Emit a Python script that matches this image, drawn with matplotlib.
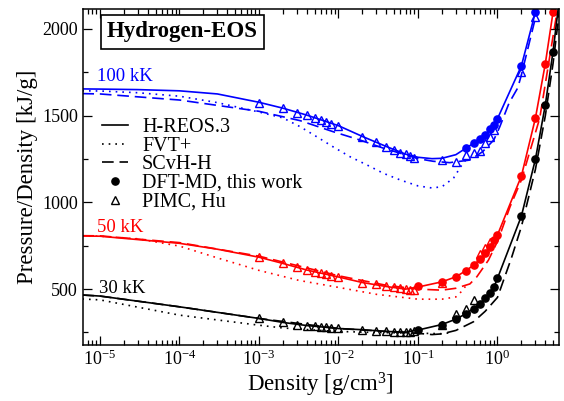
import numpy as np
import matplotlib
matplotlib.use("Agg")
import matplotlib.pyplot as plt
from matplotlib.ticker import LogLocator, MultipleLocator, NullFormatter
from matplotlib.lines import Line2D

plt.rcParams['font.family'] = ['Liberation Serif', 'DejaVu Serif']
plt.rcParams['mathtext.fontset'] = 'custom'
plt.rcParams['mathtext.rm'] = 'Liberation Serif'
plt.rcParams['mathtext.it'] = 'Liberation Serif:italic'

# ---- 100 kK ----
reos100_x = [6e-6, 1e-5, 3e-5, 1e-4, 3e-4, 1e-3, 2e-3, 4e-3, 1e-2, 2e-2, 4e-2, 7e-2,
             0.1, 0.15, 0.2, 0.3, 0.4, 0.5, 0.6, 0.7, 0.8, 0.9, 1.0, 2.0, 3.0, 3.3]
reos100_y = [1654, 1653, 1650, 1643, 1625, 1577, 1543, 1503, 1442, 1380, 1322, 1278,
             1260, 1252, 1254, 1275, 1312, 1341, 1364, 1388, 1421, 1446, 1482, 1787, 2096, 2190]
fvt100_x = [6e-6, 1e-5, 3e-5, 1e-4, 3e-4, 1e-3, 2e-3, 3.3e-3, 5.3e-3, 8.5e-3, 1.4e-2, 2.3e-2,
            3.7e-2, 6e-2, 0.1, 0.15, 0.2, 0.28, 0.35, 0.4]
fvt100_y = [1643, 1642, 1632, 1612, 1575, 1521, 1487, 1436, 1379, 1321, 1263, 1215,
            1167, 1129, 1095, 1083, 1090, 1140, 1210, 1245]
scvh100_x = [6e-6, 1e-5, 1e-4, 1e-3, 3.3e-3, 8.5e-3, 1.85e-2, 3.7e-2, 6e-2, 0.1, 0.155,
             0.25, 0.45, 0.65, 0.9, 1.07, 1.4, 1.8, 2.0, 3.0, 3.3]
scvh100_y = [1627, 1625, 1590, 1525, 1471, 1408, 1360, 1312, 1283, 1252, 1237,
             1229, 1244, 1292, 1360, 1436, 1573, 1660, 1735, 2063, 2170]
dft100_x = [0.4, 0.5, 0.6, 0.7, 0.8, 0.9, 1.0, 2.0, 3.0]
dft100_y = [1312, 1341, 1364, 1388, 1421, 1446, 1482, 1787, 2096]
pimc100_x = [1e-3, 2e-3, 3e-3, 4e-3, 5e-3, 6e-3, 7e-3, 8e-3, 1e-2, 2e-2, 3e-2, 4e-2,
             5e-2, 6e-2, 7e-2, 8e-2, 9e-2, 0.2, 0.3, 0.4, 0.5, 0.6, 0.7, 0.8, 0.9, 2.0, 3.0]
pimc100_y = [1575, 1542, 1517, 1502, 1487, 1475, 1464, 1454, 1440, 1379, 1346, 1321,
             1302, 1286, 1277, 1267, 1258, 1244, 1234, 1273, 1283, 1296, 1342, 1379, 1417, 1750, 2070]

# ---- 50 kK ----
reos50_x = [6e-6, 1e-5, 1e-4, 3e-4, 1e-3, 2e-3, 4e-3, 1e-2, 2e-2, 4e-2, 7e-2, 0.1,
            0.2, 0.3, 0.4, 0.5, 0.6, 0.7, 0.8, 0.9, 1.0, 2.0, 3.0, 4.0, 5.0, 5.4]
reos50_y = [806, 805, 764, 730, 684, 648, 610, 570, 538, 515, 500, 512,
            542, 571, 606, 638, 671, 710, 744, 783, 812, 1152, 1485, 1800, 2096, 2200]
fvt50_x = [6e-6, 1e-5, 3e-5, 1e-4, 3e-4, 1e-3, 3.2e-3, 1e-2, 3e-2, 0.1, 0.2, 0.3, 0.35, 0.4]
fvt50_y = [806, 805, 790, 748, 680, 608, 550, 510, 470, 442, 442, 455, 485, 518]
scvh50_x = [6e-6, 1e-5, 1e-4, 1e-3, 1e-2, 4e-2, 0.1, 0.2, 0.3, 0.45, 0.55, 0.77, 1.02,
            1.44, 2.0, 3.4, 5.6]
scvh50_y = [808, 807, 768, 690, 577, 522, 500, 494, 505, 530, 571, 667, 783,
            975, 1129, 1485, 2096]
dft50_x = [0.1, 0.2, 0.3, 0.4, 0.5, 0.6, 0.7, 0.8, 0.9, 1.0, 2.0, 3.0, 4.0, 5.0]
dft50_y = [517, 542, 571, 606, 638, 671, 710, 744, 783, 812, 1152, 1485, 1800, 2096]
pimc50_x = [1e-3, 2e-3, 3e-3, 4e-3, 5e-3, 6e-3, 7e-3, 8e-3, 1e-2, 2e-2, 3e-2, 4e-2,
            5e-2, 6e-2, 7e-2, 8e-2, 9e-2, 0.2, 0.6, 0.7, 0.8]
pimc50_y = [686, 648, 625, 610, 600, 594, 587, 575, 571, 538, 527, 517,
            513, 508, 500, 494, 494, 533, 700, 735, 770]

# ---- 30 kK ----
reos30_x = [6e-6, 1e-5, 1e-4, 1e-3, 2e-3, 4e-3, 1e-2, 2e-2, 4e-2, 7e-2, 0.1, 0.2, 0.3,
            0.4, 0.5, 0.6, 0.7, 0.8, 0.9, 1.0, 2.0, 3.0, 4.0, 5.0, 6.0]
reos30_y = [466, 460, 398, 331, 308, 290, 273, 266, 256, 252, 264, 296, 327,
            358, 388, 417, 447, 477, 510, 562, 921, 1248, 1562, 1869, 2170]
fvt30_x = [6e-6, 1e-5, 1e-4, 1e-3, 2e-3, 5e-3, 1e-2, 3e-2, 0.1, 0.2, 0.25]
fvt30_y = [443, 438, 350, 292, 276, 264, 256, 250, 246, 243, 248]
scvh30_x = [6e-6, 1e-5, 1e-4, 1e-3, 1e-2, 4e-2, 0.1, 0.15, 0.2, 0.3, 0.5, 0.7, 1.0,
            1.5, 2.0, 3.0, 4.0, 5.0, 6.0]
scvh30_y = [466, 460, 398, 331, 273, 256, 245, 238, 242, 262, 312, 372, 452,
            680, 860, 1190, 1500, 1800, 2100]
dft30_x = [0.1, 0.2, 0.3, 0.4, 0.5, 0.6, 0.7, 0.8, 0.9, 1.0, 2.0, 3.0, 4.0, 5.0]
dft30_y = [265, 296, 327, 358, 388, 417, 447, 477, 510, 562, 921, 1248, 1562, 1869]
pimc30_x = [1e-3, 2e-3, 3e-3, 4e-3, 5e-3, 6e-3, 7e-3, 8e-3, 1e-2, 2e-2, 3e-2, 4e-2,
            5e-2, 6e-2, 7e-2, 8e-2, 9e-2, 0.2, 0.3, 0.4, 0.5]
pimc30_y = [331, 308, 296, 290, 287, 283, 279, 275, 273, 267, 260, 256,
            254, 254, 252, 252, 256, 296, 356, 388, 436]

isotherms = [
    ("100 kK", "blue", reos100_x, reos100_y, fvt100_x, fvt100_y, scvh100_x, scvh100_y,
     dft100_x, dft100_y, pimc100_x, pimc100_y, 9.2e-6, 1723),
    ("50 kK", "red", reos50_x, reos50_y, fvt50_x, fvt50_y, scvh50_x, scvh50_y,
     dft50_x, dft50_y, pimc50_x, pimc50_y, 9.2e-6, 858),
    ("30 kK", "black", reos30_x, reos30_y, fvt30_x, fvt30_y, scvh30_x, scvh30_y,
     dft30_x, dft30_y, pimc30_x, pimc30_y, 9.6e-6, 505),
]

fig = plt.figure(figsize=(5.64, 4.01), dpi=100)
ax = fig.add_axes([0.1466, 0.1397, 0.8445, 0.838])

for (label, c, rx, ry, fx, fy, sx, sy, dx, dy, px, py, tx, ty) in isotherms:
    ax.plot(rx, ry, color=c, lw=1.2, ls='-')
    ax.plot(fx, fy, color=c, lw=1.2, ls=(0, (1, 3)))
    ax.plot(sx, sy, color=c, lw=1.2, ls=(0, (7, 3.5)))
    ax.plot(dx, dy, 'o', color=c, ms=5.2, mec=c)
    ax.plot(px, py, '^', color=c, ms=5.5, mfc='none', mew=1.0)
    ax.text(tx, ty, label, color=c, fontsize=13.5, ha='left', va='center')

ax.set_xscale('log')
ax.set_xlim(6.06e-6, 5.94)
ax.set_ylim(178, 2115)

ax.xaxis.set_major_locator(LogLocator(base=10, numticks=12))
ax.xaxis.set_minor_locator(LogLocator(base=10, subs=np.arange(2, 10), numticks=12))
ax.xaxis.set_minor_formatter(NullFormatter())
ax.yaxis.set_major_locator(MultipleLocator(500))
ax.yaxis.set_minor_locator(MultipleLocator(250))

ax.tick_params(which='both', direction='in', top=True, right=True, labelsize=13)
ax.tick_params(which='major', length=6.5, width=0.9)
ax.tick_params(which='minor', length=3.5, width=0.9)
for s in ax.spines.values():
    s.set_linewidth(1.1)

ax.set_xlabel("Density [g/cm$^3$]", fontsize=16.5, labelpad=1)
ax.set_ylabel("Pressure/Density [kJ/g]", fontsize=16.5, labelpad=3)

ax.text(0.2095, 0.932, "Hydrogen-EOS", transform=ax.transAxes, fontsize=16.5,
        fontweight='bold', ha='center', va='center',
        bbox=dict(boxstyle='square,pad=0.28', fc='white', ec='black', lw=1.2))

handles = [
    Line2D([], [], color='black', lw=1.2, ls='-'),
    Line2D([], [], color='black', lw=1.2, ls=(0, (1, 3))),
    Line2D([], [], color='black', lw=1.2, ls=(0, (7, 3.5))),
    Line2D([], [], color='black', marker='o', ls='none', ms=5.2),
    Line2D([], [], color='black', marker='^', ls='none', ms=5.5, mfc='none'),
]
labels = ["H-REOS.3", "FVT+", "SCvH-H", "DFT-MD, this work", "PIMC, Hu"]
ax.legend(handles, labels, loc='upper left', bbox_to_anchor=(0.04, 0.676),
          frameon=False, fontsize=14.5, handlelength=1.3, handletextpad=0.7,
          labelspacing=-0.02, borderpad=0, borderaxespad=0)

fig.savefig("out.png", dpi=100)
